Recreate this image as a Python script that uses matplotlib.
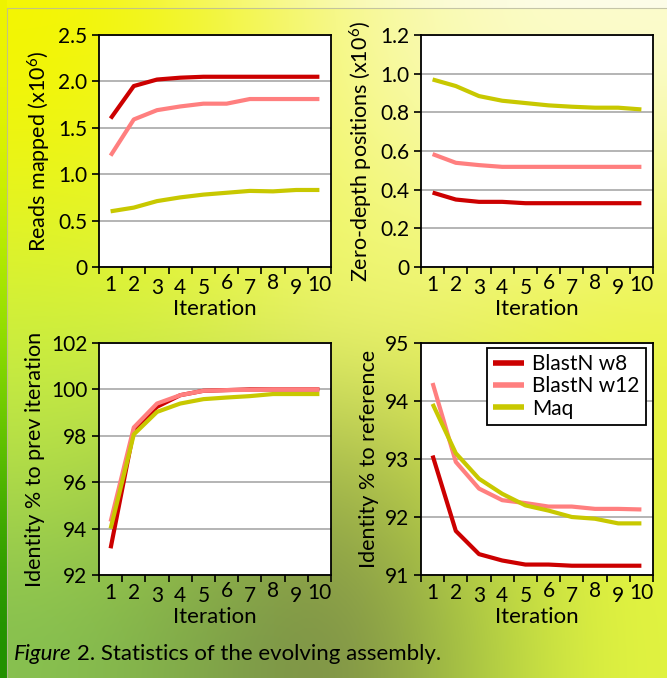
import matplotlib.pyplot as plt
import numpy as np
from matplotlib.colors import to_rgb
from matplotlib.patches import Rectangle
from matplotlib.transforms import ScaledTranslation

plt.rcParams['font.family'] = ['Lato', 'DejaVu Sans']
plt.rcParams['mathtext.fontset'] = 'custom'
plt.rcParams['mathtext.rm'] = 'Lato'
plt.rcParams['mathtext.it'] = 'Lato:italic'

# data
iterations = list(range(1, 11))
series_names = ['BlastN w8', 'BlastN w12', 'Maq']
series_colors = ['#cc0000', '#ff7f7f', '#c8c800']

reads_w8 = [1.60, 1.95, 2.02, 2.04, 2.05, 2.05, 2.05, 2.05, 2.05, 2.05]
reads_w12 = [1.20, 1.59, 1.69, 1.73, 1.76, 1.76, 1.81, 1.81, 1.81, 1.81]
reads_maq = [0.60, 0.64, 0.71, 0.75, 0.78, 0.80, 0.82, 0.815, 0.83, 0.83]

zero_w8 = [0.385, 0.349, 0.337, 0.337, 0.330, 0.330, 0.330, 0.330, 0.330, 0.330]
zero_w12 = [0.584, 0.539, 0.527, 0.518, 0.518, 0.518, 0.518, 0.518, 0.518, 0.518]
zero_maq = [0.970, 0.936, 0.884, 0.860, 0.848, 0.836, 0.829, 0.824, 0.824, 0.815]

prev_w8 = [93.15, 98.25, 99.25, 99.75, 99.94, 99.97, 100.0, 100.0, 100.0, 100.0]
prev_w12 = [94.3, 98.36, 99.39, 99.75, 99.94, 99.97, 99.98, 100.0, 100.0, 100.0]
prev_maq = [94.0, 98.06, 99.03, 99.39, 99.58, 99.65, 99.71, 99.8, 99.8, 99.8]

ref_w8 = [93.06, 91.76, 91.36, 91.25, 91.18, 91.18, 91.16, 91.16, 91.16, 91.16]
ref_w12 = [94.31, 92.95, 92.49, 92.29, 92.24, 92.18, 92.18, 92.14, 92.14, 92.13]
ref_maq = [93.95, 93.10, 92.66, 92.40, 92.20, 92.11, 92.00, 91.97, 91.89, 91.89]

reads_ticks = [0, 0.5, 1.0, 1.5, 2.0, 2.5]
reads_labels = ['0', '0.5', '1.0', '1.5', '2.0', '2.5']
zero_ticks = [0, 0.2, 0.4, 0.6, 0.8, 1.0, 1.2]
zero_labels = ['0', '0.2', '0.4', '0.6', '0.8', '1.0', '1.2']
prev_ticks = [92, 94, 96, 98, 100, 102]
ref_ticks = [91, 92, 93, 94, 95]

fig = plt.figure(figsize=(6.67, 6.78), dpi=100)

# background gradient
bg_colors = [
    ['#f4f600', '#f2f530', '#f6f890', '#fbfbc0', '#fcfcd0'],
    ['#e6f420', '#ecf530', '#f2f770', '#f4f890', '#f2f880'],
    ['#ccf040', '#dcf250', '#eaf470', '#eef460', '#ecf448'],
    ['#b0dc48', '#9cc448', '#a0b048', '#c0d848', '#e6f440'],
    ['#86c050', '#80a848', '#7a8848', '#a4c444', '#e2f440'],
]
bg = np.array([[to_rgb(c) for c in row] for row in bg_colors])
bg_ax = fig.add_axes([0, 0, 1, 1], zorder=-10)
bg_ax.imshow(bg, aspect='auto', interpolation='bicubic', extent=[0, 1, 0, 1])
strip = np.array([[to_rgb(c)] for c in ['#f0f400', '#c8f000', '#90e000', '#50b800', '#209000']])
bg_ax.imshow(strip, aspect='auto', interpolation='bicubic', extent=[0, 7 / 667, 0, 1])
top = np.array([[to_rgb(c) for c in ['#f4f600', '#f6f880', '#fbfbd8', '#fdfde8']]])
bg_ax.imshow(top, aspect='auto', interpolation='bicubic', extent=[7 / 667, 1, 1 - 8 / 678, 1])
bg_ax.add_patch(Rectangle((7 / 667, -0.1), 2, 1 - 8 / 678 + 0.1, fill=False,
                          edgecolor='#b8b8a0', lw=0.8, alpha=0.8))
bg_ax.set_xlim(0, 1)
bg_ax.set_ylim(0, 1)
bg_ax.axis('off')

W, H = 667, 678
boxes = [(99, 35), (421, 35), (99, 343), (421, 343)]
axes = [fig.add_axes([x / W, 1 - (y + 232) / H, 232 / W, 232 / H]) for x, y in boxes]

panels = [
    ([reads_w8, reads_w12, reads_maq], 'Reads mapped (x10$^{6}$)', (0, 2.5), reads_ticks, reads_labels),
    ([zero_w8, zero_w12, zero_maq], 'Zero-depth positions (x10$^{6}$)', (0, 1.2), zero_ticks, zero_labels),
    ([prev_w8, prev_w12, prev_maq], 'Identity % to prev iteration', (92, 102), prev_ticks, [str(t) for t in prev_ticks]),
    ([ref_w8, ref_w12, ref_maq], 'Identity % to reference', (91, 95), ref_ticks, [str(t) for t in ref_ticks]),
]

# old-style numeral look: vertical shift of digit labels (points)
digit_shift = {1: 0, 2: 0, 3: -2, 4: -2, 5: -2, 6: 1.5, 7: -2, 8: 1.5, 9: -2, 10: 0}

for ax, (series, ylabel, ylim, yt, ytl) in zip(axes, panels):
    ax.set_facecolor('white')
    for vals, name, col in zip(series, series_names, series_colors):
        ax.plot(iterations, vals, color=col, lw=3, label=name, solid_capstyle='butt')
    ax.set_xlim(0.5, 10.5)
    ax.set_ylim(*ylim)
    ax.set_yticks(yt, ytl)
    ax.set_xticks(np.arange(0.5, 11, 1), [])
    ax.set_xticks(iterations, [str(i) for i in iterations], minor=True)
    ax.tick_params(which='major', direction='out', length=5, width=1.2, color='black')
    ax.tick_params(which='minor', length=0, pad=6)
    ax.tick_params(which='both', labelsize=15)
    for lab, i in zip(ax.get_xticklabels(minor=True), iterations):
        lab.set_transform(lab.get_transform() +
                          ScaledTranslation(0, digit_shift[i] / 72, fig.dpi_scale_trans))
    ax.yaxis.grid(True, color='#a8a8a8', lw=1.2)
    ax.set_axisbelow(True)
    for s in ax.spines.values():
        s.set_linewidth(1.3)
    ax.set_xlabel('Iteration', fontsize=16, labelpad=0.5)
    ax.set_ylabel(ylabel, fontsize=15.5, labelpad=4)

leg = axes[3].legend(loc='upper right', bbox_to_anchor=(0.97, 0.978), borderaxespad=0,
                     fontsize=15, handlelength=1.5, handletextpad=0.4, labelspacing=0.1,
                     fancybox=False, framealpha=1, edgecolor='black', borderpad=0.3)
leg.get_frame().set_linewidth(1.3)
for line in leg.get_lines():
    line.set_linewidth(4)

t1 = fig.text(14 / W, 1 - 664 / H, 'Figure', fontsize=16, style='italic', va='bottom')
fig.add_artist(plt.matplotlib.text.Annotation(
    '2. Statistics of the evolving assembly.', xy=(1, 0), xycoords=t1,
    xytext=(4, 0), textcoords='offset points',
    fontsize=16, va='bottom', ha='left'))

fig.savefig('out.png', dpi=100)
